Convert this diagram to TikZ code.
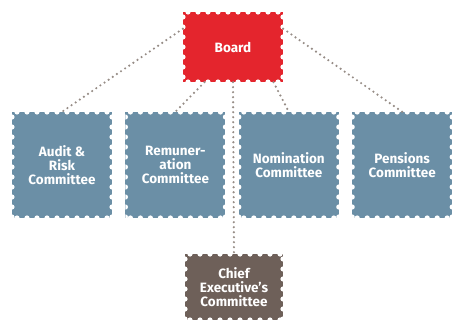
\documentclass[tikz,border=0pt]{standalone}
\usepackage{fontspec}
\setmainfont{Fira Sans}
\usepackage{tikz}
\usetikzlibrary{positioning}
\definecolor{boardred}{RGB}{228,37,45}
\definecolor{cttblue}{RGB}{107,143,166}
\definecolor{execbrown}{RGB}{110,96,89}
\definecolor{dotgrey}{RGB}{150,140,134}

\begin{document}
\begin{tikzpicture}[x=1pt, y=-1pt, font=\bfseries\fontsize{13.5}{14}\selectfont, node distance=13pt,
    stamp/.style={minimum width=100pt, minimum height=106pt, inner sep=0pt, align=center, text=white, fill=#1,
      path picture={
        \foreach \s in {5,15,...,125}{
          \fill[white] ([xshift=\s pt]path picture bounding box.north west) circle (2.6pt);
          \fill[white] ([xshift=\s pt]path picture bounding box.south west) circle (2.6pt);
          \fill[white] ([yshift=-\s pt]path picture bounding box.north west) circle (2.6pt);
          \fill[white] ([yshift=-\s pt]path picture bounding box.north east) circle (2.6pt);
        }}},
    link/.style={dotgrey, line width=2.4pt, line cap=round, dash pattern=on 0pt off 5pt}]
    \useasboundingbox (0,0) rectangle (452,329);
    \node[stamp=boardred, minimum height=70pt] (board) at (233,47) {Board};
    \node[stamp=cttblue] (audit) at (62,165) {Audit \&\\Risk\\Committee};
    \node[stamp=cttblue, right=of audit] (remun) {Remuner-\\ation\\Committee};
    \node[stamp=cttblue, right=of remun] (nomin) {Nomination\\Committee};
    \node[stamp=cttblue, right=of nomin] (pens) {Pensions\\Committee};
    \node[stamp=execbrown, minimum width=98pt, minimum height=66pt] (chief) at (234,287) {Chief\\Executive's\\Committee};
    % dotted links from the board
    \draw[link] (board.160) -- (audit.north);
    \draw[link] (board.231) -- (remun.north);
    \draw[link] (board.south) -- (chief.north);
    \draw[link] (board.319) -- (nomin.north);
    \draw[link] (board.20) -- (pens.north);
  \end{tikzpicture}
\end{document}
